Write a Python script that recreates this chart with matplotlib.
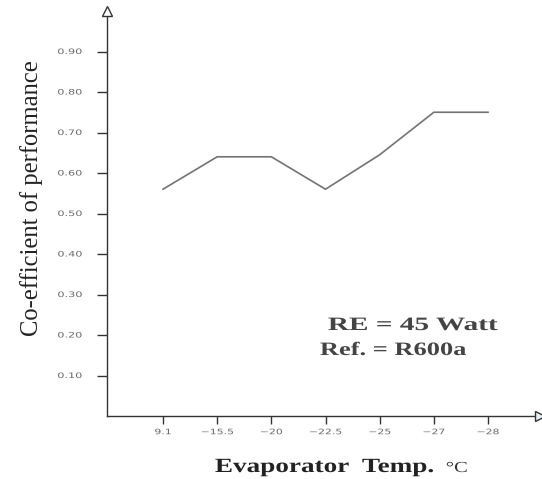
import matplotlib
matplotlib.use("Agg")
import matplotlib.pyplot as plt
from matplotlib.patheffects import AbstractPathEffect
from matplotlib.transforms import Affine2D

categories = ["9.1", "\u221215.5", "\u221220", "\u221222.5", "\u221225", "\u221227", "\u221228"]
cop = [0.56, 0.64, 0.64, 0.56, 0.645, 0.75, 0.75]
yticks = [0.10, 0.20, 0.30, 0.40, 0.50, 0.60, 0.70, 0.80, 0.90]
ytick_labels = ["0.10", "0.20", "0.30", "0.40", "0.50", "0.60", "0.70", "0.80", "0.90"]


class StretchX(AbstractPathEffect):
    """Draw text stretched horizontally about one edge of its ink box."""

    def __init__(self, sx, anchor="left"):
        super().__init__()
        self.sx = sx
        self.anchor = anchor

    def draw_path(self, renderer, gc, tpath, affine, rgbFace=None):
        ext = tpath.get_extents(affine)
        if self.anchor == "left":
            x0 = ext.x0
        elif self.anchor == "right":
            x0 = ext.x1
        else:
            x0 = 0.5 * (ext.x0 + ext.x1)
        aff = affine + Affine2D().translate(-x0, 0).scale(self.sx, 1).translate(x0, 0)
        renderer.draw_path(gc, tpath, aff, rgbFace)


W, H = 542, 479
fig = plt.figure(figsize=(W / 100, H / 100), dpi=100)
left, right, bottom, top = 107, 540, 416, 11
ax = fig.add_axes([left / W, 1 - bottom / H, (right - left) / W, (bottom - top) / H])

x = list(range(len(categories)))
ax.plot(x, cop, color="#737373", lw=1.2, solid_joinstyle="miter")

ax.set_xlim(-1.034, 6.96)
ax.set_ylim(0, 1.0)
for s in ["top", "right"]:
    ax.spines[s].set_visible(False)
for s in ["left", "bottom"]:
    ax.spines[s].set_color("#333333")
    ax.spines[s].set_linewidth(1.0)

ax.set_xticks(x)
ax.set_xticklabels(categories)
ax.set_yticks(yticks)
ax.set_yticklabels(ytick_labels)
ax.tick_params(axis="y", direction="out", length=7.5, width=1.0, color="#333333",
               labelsize=5.4, labelcolor="#6a6a6a", pad=10.5)
ax.tick_params(axis="x", direction="out", length=6, width=1.0, color="#333333",
               labelsize=5.4, labelcolor="#6a6a6a", pad=3.5)
for lab in ax.get_yticklabels():
    lab.set_path_effects([StretchX(1.5, "right")])
for lab in ax.get_xticklabels():
    lab.set_path_effects([StretchX(1.45, "center")])

# open arrowheads at axis ends
ax.plot([-1.034], [1.0], marker="^", ms=7, mfc="white", mec="#333333", mew=1.0,
        clip_on=False, zorder=5)
ax.plot([6.96], [0], marker=">", ms=7, mfc="#e8eef5", mec="#333333", mew=1.0,
        clip_on=False, zorder=5)

fig.text(32 / W, 1 - 198 / H, "Co-efficient of performance", rotation=90,
         family="Liberation Serif", fontsize=17.7, color="#222222",
         ha="center", va="center")

t1 = fig.text(328 / W, 1 - 330 / H, "RE = 45 Watt", family="Liberation Serif",
              fontweight="bold", fontsize=13.6, color="#444444", ha="left", va="baseline")
t2 = fig.text(320 / W, 1 - 355 / H, "Ref. = R600a", family="Liberation Serif",
              fontweight="bold", fontsize=13.6, color="#444444", ha="left", va="baseline")
t1.set_path_effects([StretchX(1.55, "left")])
t2.set_path_effects([StretchX(1.4, "left")])

renderer = fig.canvas.get_renderer()
sx_lab = 1.35
xl = fig.text(215 / W, 1 - 472 / H, "Evaporator  Temp.", family="Liberation Serif",
              fontweight="bold", fontsize=14.5, color="#222222", ha="left", va="baseline")
xl.set_path_effects([StretchX(sx_lab, "left")])
wlab = xl.get_window_extent(renderer).width * sx_lab
deg = fig.text((215 + wlab + 12) / W, 1 - 472 / H, "\u00b0C", family="Liberation Serif",
               fontsize=11, color="#333333", ha="left", va="baseline")
deg.set_path_effects([StretchX(1.35, "left")])

fig.savefig("out.png", dpi=100)
